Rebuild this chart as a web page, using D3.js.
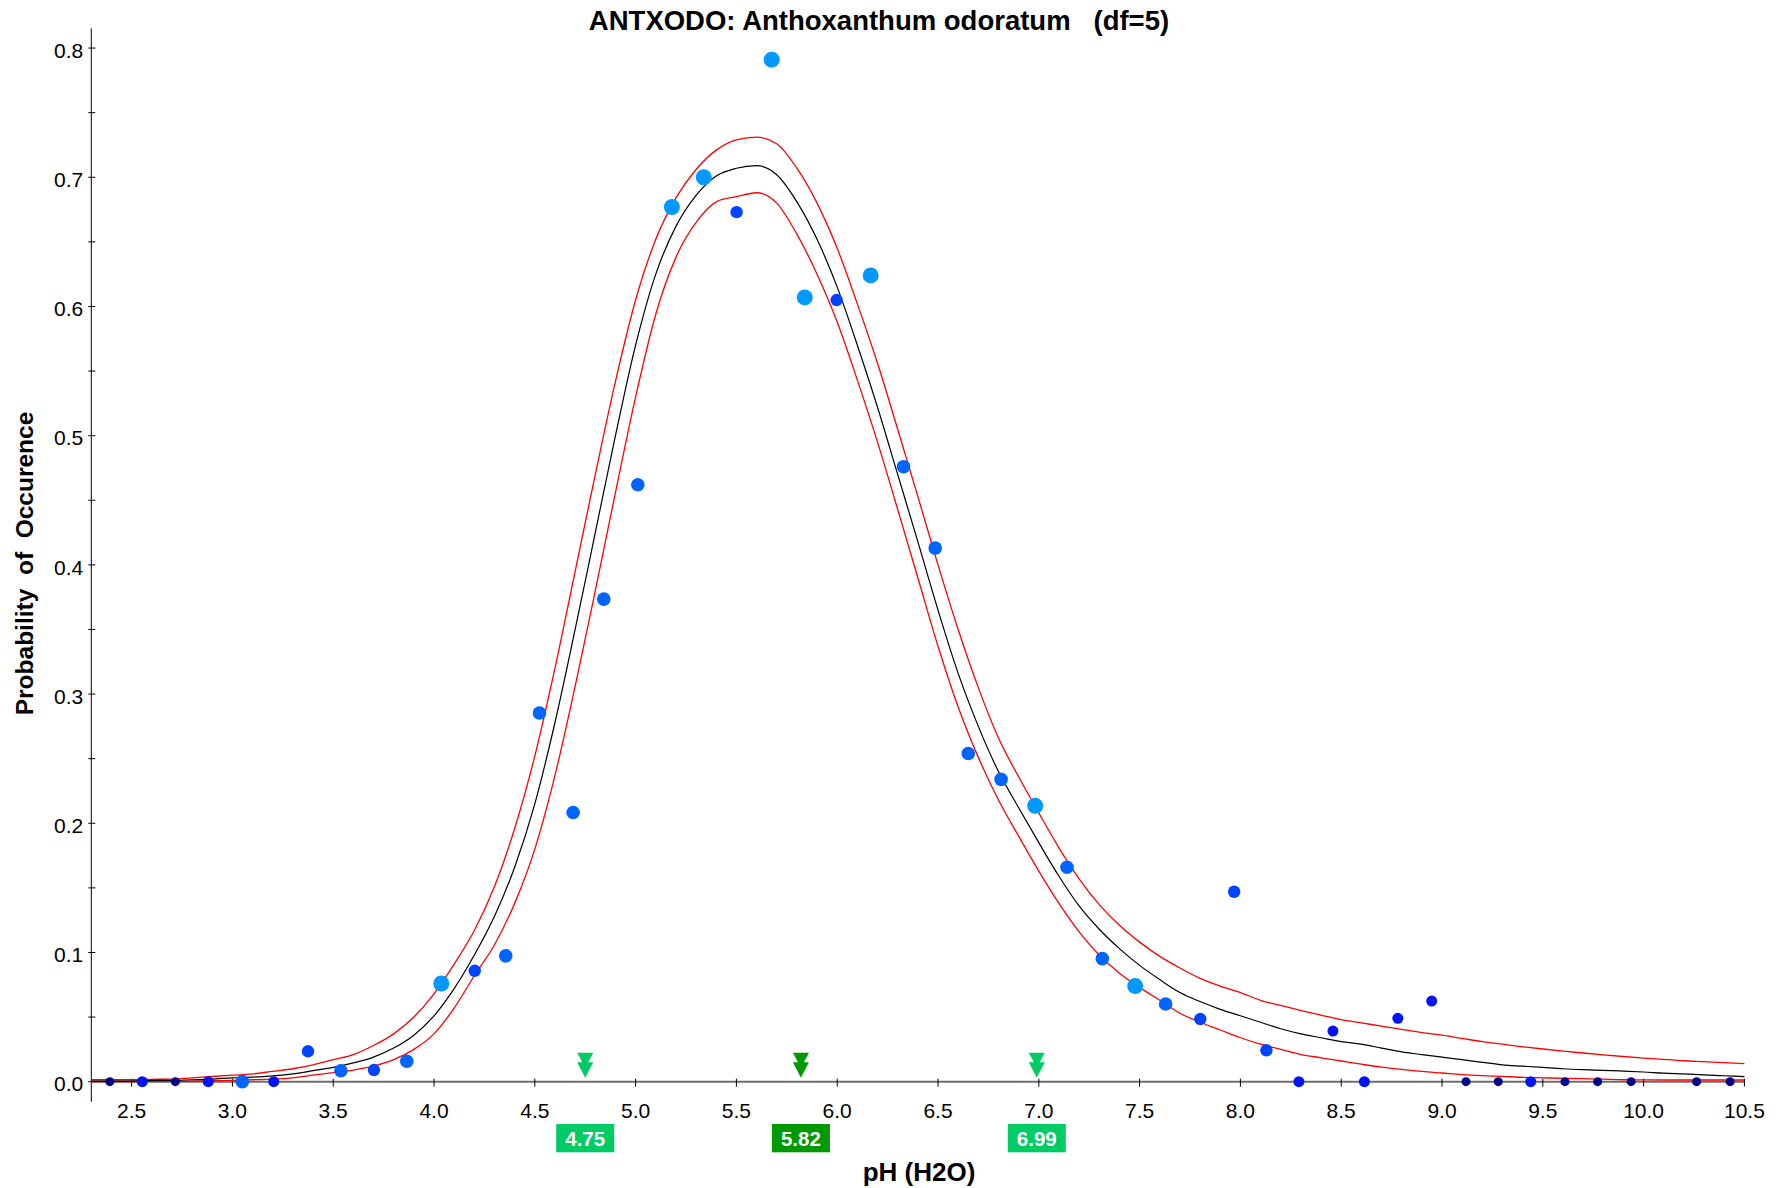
<!DOCTYPE html>
<html>
<head>
<meta charset="utf-8">
<script src="https://cdn.jsdelivr.net/npm/d3@7"></script>
<style>
  html, body { margin: 0; padding: 0; background: #fff; }
  svg { display: block; }
  text { font-family: "Liberation Sans", Arial, sans-serif; }
</style>
</head>
<body>
<svg id="chart" width="1780" height="1188"></svg>
<script>
// ---------------- DATA ----------------
const titleText = "ANTXODO: Anthoxanthum odoratum   (df=5)";
const xLabel = "pH (H2O)";
const yLabel = "Probability  of  Occurence";

const xTickValues = [2.5, 3.0, 3.5, 4.0, 4.5, 5.0, 5.5, 6.0, 6.5, 7.0, 7.5, 8.0, 8.5, 9.0, 9.5, 10.0, 10.5];
const yTickValues = [0.0, 0.1, 0.2, 0.3, 0.4, 0.5, 0.6, 0.7, 0.8];
const yMinorTickValues = [0.05, 0.15, 0.25, 0.35, 0.45, 0.55, 0.65, 0.75];

// observed frequencies per pH class (group = sample-size class -> colour/size)
const obsPH = [2.392, 2.553, 2.717, 2.880, 3.049, 3.205, 3.375, 3.538, 3.702, 3.865,
               4.036, 4.202, 4.356, 4.523, 4.690, 4.842, 5.011, 5.180, 5.338, 5.501,
               5.675, 5.839, 5.997, 6.166, 6.329, 6.486, 6.650, 6.813, 6.982, 7.140,
               7.315, 7.478, 7.629, 7.801, 7.969, 8.129, 8.290, 8.459, 8.615, 8.781,
               8.949, 9.119, 9.279, 9.440, 9.610, 9.772, 9.938, 10.263, 10.429];
const obsProb = [0, 0, 0, 0, 0, 0, 0.0235, 0.0085, 0.009, 0.0158,
                 0.076, 0.0858, 0.0974, 0.2853, 0.2083, 0.3735, 0.462, 0.677, 0.700, 0.673,
                 0.791, 0.607, 0.605, 0.624, 0.476, 0.413, 0.254, 0.234, 0.2135, 0.166,
                 0.0952, 0.074, 0.0601, 0.0485, 0.147, 0.0243, 0, 0.0392, 0, 0.049,
                 0.0624, 0, 0, 0, 0, 0, 0, 0, 0];
const obsGroup = [0, 1, 0, 1, 3, 1, 2, 3, 2, 3,
                  4, 2, 3, 3, 3, 3, 3, 4, 4, 2,
                  4, 4, 2, 4, 3, 3, 3, 3, 4, 3,
                  3, 4, 3, 2, 2, 2, 1, 1, 1, 1,
                  1, 0, 0, 1, 0, 0, 0, 0, 0];

// fitted response curve and confidence band
const curvePH = [2.3, 2.4, 2.5, 2.6, 2.7, 2.8, 2.9, 3.0, 3.1, 3.2, 3.3, 3.4, 3.5, 3.6, 3.7, 3.8, 3.9,
                 4.0, 4.1, 4.2, 4.3, 4.4, 4.5, 4.6, 4.7, 4.8, 4.9, 5.0, 5.1, 5.2, 5.3, 5.4, 5.5, 5.6,
                 5.7, 5.8, 5.9, 6.0, 6.1, 6.2, 6.3, 6.4, 6.5, 6.6, 6.7, 6.8, 6.9, 7.0, 7.1, 7.2, 7.3,
                 7.4, 7.5, 7.6, 7.7, 7.8, 7.9, 8.0, 8.1, 8.2, 8.3, 8.4, 8.5, 8.6, 8.7, 8.8, 8.9, 9.0,
                 9.1, 9.2, 9.3, 9.4, 9.5, 9.6, 9.7, 9.8, 9.9, 10.0, 10.1, 10.2, 10.3, 10.4, 10.5];
const fitProb = [0.0005, 0.0005, 0.0005, 0.001, 0.001, 0.0015, 0.002, 0.003, 0.0035, 0.0045, 0.006, 0.0085, 0.011, 0.0145, 0.019, 0.026, 0.036,
                 0.051, 0.072, 0.098, 0.128, 0.166, 0.215, 0.278, 0.350, 0.425, 0.500, 0.570, 0.625, 0.662, 0.686, 0.701, 0.707, 0.709,
                 0.702, 0.681, 0.652, 0.615, 0.570, 0.522, 0.470, 0.418, 0.365, 0.316, 0.275, 0.240, 0.212, 0.185, 0.159, 0.136, 0.118,
                 0.103, 0.090, 0.079, 0.069, 0.062, 0.056, 0.051, 0.046, 0.041, 0.037, 0.034, 0.031, 0.029, 0.026, 0.023, 0.021, 0.019,
                 0.017, 0.015, 0.013, 0.012, 0.011, 0.010, 0.0093, 0.0088, 0.0082, 0.0075, 0.0066, 0.006, 0.0053, 0.0046, 0.0039];
const upperProb = [0.0015, 0.0015, 0.0015, 0.0018, 0.002, 0.003, 0.004, 0.005, 0.006, 0.008, 0.010, 0.013, 0.017, 0.021, 0.028, 0.037, 0.050,
                   0.068, 0.091, 0.117, 0.151, 0.196, 0.252, 0.320, 0.395, 0.470, 0.542, 0.605, 0.652, 0.684, 0.706, 0.721, 0.729, 0.731,
                   0.726, 0.707, 0.680, 0.645, 0.602, 0.556, 0.505, 0.453, 0.400, 0.350, 0.305, 0.266, 0.236, 0.208, 0.181, 0.157, 0.137,
                   0.121, 0.108, 0.097, 0.088, 0.080, 0.074, 0.069, 0.063, 0.059, 0.055, 0.0515, 0.048, 0.0455, 0.043, 0.0405, 0.038, 0.036,
                   0.0335, 0.031, 0.029, 0.027, 0.0253, 0.0237, 0.0222, 0.0208, 0.0195, 0.0183, 0.0172, 0.0162, 0.0155, 0.0147, 0.0139];
const lowerProb = [0, 0, 0, 0.0002, 0.0003, 0.0005, 0.0008, 0.001, 0.0015, 0.002, 0.003, 0.005, 0.007, 0.009, 0.012, 0.017, 0.025,
                   0.037, 0.057, 0.082, 0.106, 0.138, 0.180, 0.237, 0.306, 0.380, 0.456, 0.530, 0.594, 0.638, 0.665, 0.681, 0.685, 0.688,
                   0.680, 0.656, 0.625, 0.588, 0.543, 0.495, 0.443, 0.390, 0.337, 0.290, 0.251, 0.218, 0.190, 0.163, 0.138, 0.116, 0.098,
                   0.084, 0.073, 0.063, 0.053, 0.046, 0.040, 0.034, 0.029, 0.025, 0.021, 0.0185, 0.016, 0.0135, 0.0112, 0.0095, 0.0079, 0.0067,
                   0.0055, 0.0047, 0.0041, 0.0034, 0.003, 0.0026, 0.0023, 0.0019, 0.0015, 0.0014, 0.0013, 0.0013, 0.0013, 0.0013, 0.0013];

// quantile markers
const markerPH = [4.75, 5.82, 6.99];
const markerLabels = ["4.75", "5.82", "6.99"];
const markerKind = [0, 1, 0]; // 0 = outer quantiles, 1 = optimum

// ---------------- STYLES ----------------
const groupColor = ["#00008c", "#0014f5", "#0044ff", "#0064ff", "#0099ff"];
const groupRadius = [4.5, 5.5, 6.2, 6.8, 8];
const markerColor = ["#00cc66", "#009900"];

// ---------------- CHART ----------------
const svg = d3.select("#chart");
const x = d3.scaleLinear().domain([2.3, 10.5]).range([91.3, 1744.4]);
const y = d3.scaleLinear().domain([-0.0155, 0.8153]).range([1101.7, 28.3]);

// title
svg.append("text")
  .attr("x", 879).attr("y", 30)
  .attr("text-anchor", "middle")
  .attr("font-size", 27.5).attr("font-weight", "bold")
  .style("white-space", "pre")
  .attr("xml:space", "preserve")
  .text(titleText);

// y axis
const yAxisG = svg.append("g").attr("transform", `translate(${x(2.3)},0)`);
yAxisG.append("line").attr("x1", 0).attr("x2", 0).attr("y1", y.range()[0]).attr("y2", y.range()[1])
  .attr("stroke", "#000").attr("stroke-width", 1);
yAxisG.selectAll("line.major").data(yTickValues).enter().append("line")
  .attr("x1", -3).attr("x2", 4).attr("y1", d => y(d)).attr("y2", d => y(d))
  .attr("stroke", "#000").attr("stroke-width", 1);
yAxisG.selectAll("line.minor").data(yMinorTickValues).enter().append("line")
  .attr("x1", -3).attr("x2", 4).attr("y1", d => y(d)).attr("y2", d => y(d))
  .attr("stroke", "#000").attr("stroke-width", 1);
yAxisG.selectAll("text.tl").data(yTickValues).enter().append("text")
  .attr("x", -8).attr("y", d => y(d) + 9.8)
  .attr("text-anchor", "end").attr("font-size", 21)
  .text(d => d3.format(".1f")(d));

// x axis
const xAxisG = svg.append("g").attr("transform", `translate(0,${y(0)})`);
xAxisG.append("line").attr("x1", x.range()[0]).attr("x2", x.range()[1]).attr("y1", 0).attr("y2", 0)
  .attr("stroke", "#6e6e6e").attr("stroke-width", 2);
xAxisG.selectAll("line.tk").data(xTickValues).enter().append("line")
  .attr("x1", d => x(d)).attr("x2", d => x(d)).attr("y1", -3).attr("y2", 5)
  .attr("stroke", "#000").attr("stroke-width", 1);
xAxisG.selectAll("text.tl").data(xTickValues).enter().append("text")
  .attr("x", d => x(d)).attr("y", 36.5)
  .attr("text-anchor", "middle").attr("font-size", 21)
  .text(d => d3.format(".1f")(d));

// axis titles
svg.append("text")
  .attr("x", 919).attr("y", 1181)
  .attr("text-anchor", "middle").attr("font-size", 26).attr("font-weight", "bold")
  .text(xLabel);
svg.append("text")
  .attr("transform", "translate(33,563.5) rotate(-90)")
  .attr("text-anchor", "middle").attr("font-size", 24.5).attr("font-weight", "bold")
  .attr("xml:space", "preserve").style("white-space", "pre")
  .text(yLabel);

// curves
const line = d3.line().x(d => x(d[0])).y(d => y(d[1])).curve(d3.curveMonotoneX);
const mk = arr => curvePH.map((p, i) => [p, arr[i]]);
svg.append("path").attr("d", line(mk(upperProb))).attr("fill", "none").attr("stroke", "#ff0000").attr("stroke-width", 1.3);
svg.append("path").attr("d", line(mk(lowerProb))).attr("fill", "none").attr("stroke", "#ff0000").attr("stroke-width", 1.3);
svg.append("path").attr("d", line(mk(fitProb))).attr("fill", "none").attr("stroke", "#000000").attr("stroke-width", 1.2);

// observed points
const pts = obsPH.map((p, i) => ({ ph: p, prob: obsProb[i], g: obsGroup[i] }));
svg.append("g").selectAll("circle").data(pts).enter().append("circle")
  .attr("cx", d => x(d.ph)).attr("cy", d => y(d.prob))
  .attr("r", d => groupRadius[d.g])
  .attr("fill", d => groupColor[d.g]);

// markers: double down-triangles + labelled boxes
const mg = svg.append("g");
const tri = (cx, top, w, h) => `M${cx - w / 2},${top}L${cx + w / 2},${top}L${cx},${top + h}Z`;
markerPH.forEach((p, i) => {
  const cx = x(p);
  const col = markerColor[markerKind[i]];
  const base = y(0);
  mg.append("path").attr("d", tri(cx, base - 29, 16, 15)).attr("fill", col);
  mg.append("path").attr("d", tri(cx, base - 19.5, 16, 15.5)).attr("fill", col);
  mg.append("rect").attr("x", cx - 29).attr("y", 1124).attr("width", 58).attr("height", 28.3).attr("fill", col);
  mg.append("text").attr("x", cx).attr("y", 1145.5).attr("text-anchor", "middle")
    .attr("font-size", 20.5).attr("font-weight", "bold").attr("fill", "#fff")
    .text(markerLabels[i]);
});
</script>
</body>
</html>
